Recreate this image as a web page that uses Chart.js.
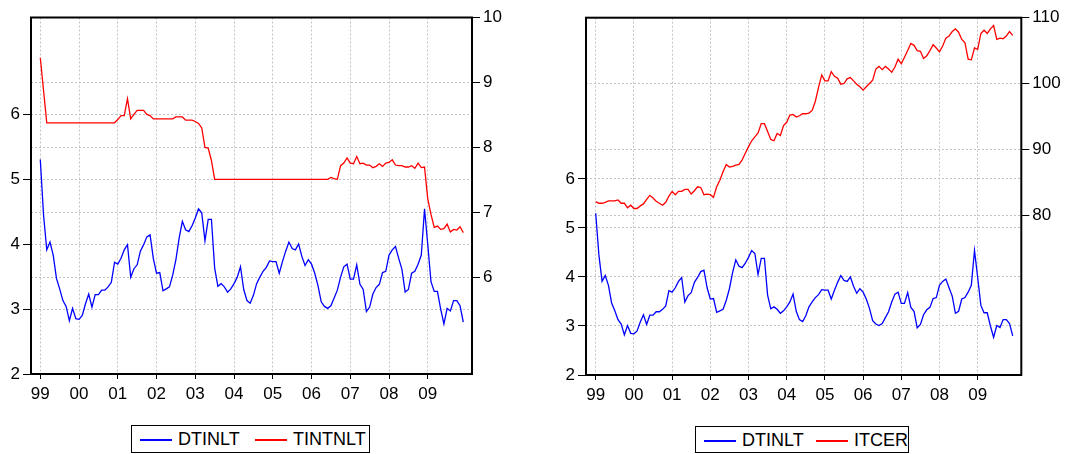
<!DOCTYPE html>
<html><head><meta charset="utf-8">
<script src="https://cdn.jsdelivr.net/npm/chart.js@4.4.0/dist/chart.umd.min.js"></script>
<style>
html,body{margin:0;padding:0;background:#fff;width:1067px;height:454px;overflow:hidden;font-family:Arial,"Liberation Sans",sans-serif;}
.wrap{position:absolute;top:0;}
.legend{position:absolute;box-sizing:border-box;border:1px solid #000;font-size:18px;color:#000;background:#fff;white-space:nowrap;}
.legend .ln{position:absolute;width:32px;height:1.5px;top:13px;}
.legend .tx{position:absolute;top:2px;line-height:22px;}
</style></head>
<body>
<div class="wrap" style="left:0;"><canvas id="c1" width="530" height="420"></canvas></div>
<div class="wrap" style="left:530px;"><canvas id="c2" width="537" height="420"></canvas></div>
<div class="legend" style="left:131px;top:425px;width:239px;height:28px;">
  <span class="ln" style="left:8px;background:#0000ff"></span><span class="tx" style="left:46px">DTINLT</span>
  <span class="ln" style="left:123px;background:#ff0000"></span><span class="tx" style="left:161px">TINTNLT</span>
</div>
<div class="legend" style="left:695px;top:426px;width:214px;height:27px;">
  <span class="ln" style="left:8px;background:#0000ff"></span><span class="tx" style="left:46px">DTINLT</span>
  <span class="ln" style="left:120px;background:#ff0000"></span><span class="tx" style="left:158px">ITCER</span>
</div>
<script>
// Monthly data 1999M01 - 2009M12
const TICK_LABELS = ['99','00','01','02','03','04','05','06','07','08','09'];
const TICK_POS = [0,12,24,36,48,60,72,84,96,108,120];

const DTINLT = [
 5.30,4.45,3.91,4.03,3.83,3.47,3.31,3.13,3.04,2.82,3.01,2.85,
 2.84,2.90,3.08,3.23,3.03,3.22,3.22,3.29,3.29,3.34,3.41,3.72,
 3.69,3.78,3.91,3.99,3.49,3.62,3.68,3.89,3.99,4.11,4.14,3.78,
 3.55,3.56,3.28,3.31,3.34,3.52,3.76,4.09,4.35,4.22,4.19,4.28,
 4.40,4.54,4.48,4.05,4.38,4.38,3.63,3.35,3.39,3.34,3.26,3.31,
 3.39,3.49,3.65,3.30,3.13,3.09,3.21,3.39,3.49,3.58,3.64,3.74,
 3.73,3.73,3.55,3.73,3.89,4.03,3.93,3.91,4.00,3.81,3.67,3.76,
 3.69,3.55,3.36,3.11,3.04,3.01,3.05,3.17,3.29,3.49,3.65,3.69,
 3.46,3.46,3.68,3.38,3.30,2.96,3.03,3.23,3.33,3.38,3.56,3.58,
 3.83,3.91,3.96,3.78,3.61,3.26,3.30,3.55,3.58,3.69,3.83,4.54,
 3.99,3.42,3.27,3.27,3.00,2.77,3.01,2.97,3.13,3.13,3.05,2.80
];

const TINTNLT = [
 9.38,8.88,8.38,8.38,8.38,8.38,8.38,8.38,8.38,8.38,8.38,8.38,
 8.38,8.38,8.38,8.38,8.38,8.38,8.38,8.38,8.38,8.38,8.38,8.38,
 8.43,8.49,8.49,8.75,8.44,8.51,8.57,8.57,8.57,8.51,8.49,8.44,
 8.44,8.44,8.44,8.44,8.44,8.44,8.47,8.47,8.47,8.42,8.42,8.42,
 8.40,8.37,8.30,8.00,7.99,7.80,7.51,7.51,7.51,7.51,7.51,7.51,
 7.51,7.51,7.51,7.51,7.51,7.51,7.51,7.51,7.51,7.51,7.51,7.51,
 7.51,7.51,7.51,7.51,7.51,7.51,7.51,7.51,7.51,7.51,7.51,7.51,
 7.51,7.51,7.51,7.51,7.51,7.51,7.54,7.52,7.51,7.72,7.76,7.84,
 7.76,7.75,7.86,7.75,7.76,7.73,7.73,7.69,7.71,7.75,7.71,7.76,
 7.77,7.81,7.73,7.72,7.72,7.70,7.70,7.72,7.68,7.76,7.69,7.70,
 7.21,6.97,6.77,6.79,6.74,6.75,6.82,6.70,6.74,6.73,6.78,6.69
];

const ITCER = [
 82.05,81.8,81.8,81.95,82.15,82.15,82.15,82.3,81.8,81.8,81.1,81.5,
 81.0,81.0,81.4,81.7,82.4,83.0,82.6,82.1,81.8,81.5,81.95,82.9,
 83.6,83.1,83.6,83.6,83.9,83.9,83.2,83.7,84.3,84.2,83.1,83.2,
 83.1,82.7,84.3,85.3,86.6,87.7,87.3,87.4,87.6,87.7,88.4,89.4,
 90.4,91.3,91.9,92.5,93.9,93.9,92.7,91.5,91.3,92.4,92.1,93.6,
 94.1,95.2,95.3,94.9,95.1,95.4,95.4,95.5,95.9,97.3,99.4,101.3,
 100.4,100.4,101.8,101.1,100.8,99.9,100.0,100.7,100.9,100.4,99.9,99.5,
 99.0,99.5,100.0,100.5,102.2,102.6,102.1,102.6,102.2,101.7,102.5,103.7,
 103.0,104.0,105.0,106.1,105.8,105.0,104.9,103.8,104.2,105.0,105.9,105.4,
 104.8,105.7,106.9,107.2,107.9,108.3,107.8,106.7,106.2,103.7,103.6,105.4,
 105.2,107.6,108.1,107.6,108.3,108.8,106.7,106.9,106.8,107.2,107.9,107.3
];

const FONT = {family: 'Arial, "Liberation Sans", sans-serif', size: 17};
const GRID_COLOR = '#c4c4c4';

const framePlugin = {
  id: 'frame',
  afterDatasetsDraw(chart) {
    const {ctx, chartArea: a} = chart;
    ctx.save();
    ctx.strokeStyle = '#000';
    ctx.lineWidth = 2;
    ctx.setLineDash([]);
    ctx.strokeRect(a.left, a.top, a.right - a.left, a.bottom - a.top);
    ctx.restore();
  }
};

function toXY(arr) { return arr.map((v, i) => ({x: i, y: v})); }

function yAxis(pos, min, max, ticks, width) {
  return {
    type: 'linear', position: pos, min: min, max: max,
    afterBuildTicks: s => { s.ticks = ticks.map(v => ({value: v})); },
    afterFit: s => { s.width = width; },
    grid: {color: GRID_COLOR, lineWidth: 1, borderDash: [2, 2], tickColor: '#000', tickLength: 8, tickWidth: 1, tickBorderDash: [], drawOnChartArea: true},
    border: {display: false, dash: [2, 2]},
    ticks: {color: '#000', font: FONT, padding: 3}
  };
}

function xAxis(min, max, height) {
  return {
    type: 'linear', position: 'bottom', min: min, max: max,
    afterBuildTicks: s => { s.ticks = TICK_POS.map(v => ({value: v})); },
    afterFit: s => { s.height = height; },
    grid: {color: GRID_COLOR, lineWidth: 1, borderDash: [2, 2], tickColor: '#000', tickLength: 5, tickWidth: 1, tickBorderDash: []},
    border: {display: false, dash: [2, 2]},
    ticks: {color: '#000', font: FONT, padding: 5, autoSkip: false, maxRotation: 0,
      callback: (v, idx) => TICK_LABELS[idx]}
  };
}

function makeChart(id, series2, name2, opts) {
  return new Chart(document.getElementById(id), {
    type: 'line',
    data: {
      datasets: [
        {label: name2, data: toXY(series2), yAxisID: 'y1', borderColor: '#ff0000', borderWidth: 1.3, pointRadius: 0, tension: 0},
        {label: 'DTINLT', data: toXY(DTINLT), yAxisID: 'y', borderColor: '#0000ff', borderWidth: 1.3, pointRadius: 0, tension: 0}
      ]
    },
    options: {
      responsive: false, animation: false,
      layout: {padding: {top: opts.top, left: 0, right: 0, bottom: 0}},
      plugins: {legend: {display: false}, tooltip: {enabled: false}},
      scales: {
        x: xAxis(opts.xmin, opts.xmax, opts.xh),
        y: yAxis('left', opts.ymin, opts.ymax, [2, 3, 4, 5, 6], opts.lw),
        y1: yAxis('right', opts.y1min, opts.y1max, opts.y1ticks, opts.rw)
      }
    },
    plugins: [framePlugin]
  });
}

makeChart('c1', TINTNLT, 'TINTNLT', {top: 17.5, xmin: -2.88, xmax: 133.7, xh: 46, ymin: 2, ymax: 7.485, lw: 31,
  y1min: 4.515, y1max: 10, y1ticks: [6, 7, 8, 9, 10], rw: 58});
makeChart('c2', ITCER, 'ITCER', {top: 17.7, xmin: -3.05, xmax: 133.7, xh: 45, ymin: 2, ymax: 9.29, lw: 56,
  y1min: 55.7, y1max: 110, y1ticks: [80, 90, 100, 110], rw: 45.7});
</script>
</body></html>
